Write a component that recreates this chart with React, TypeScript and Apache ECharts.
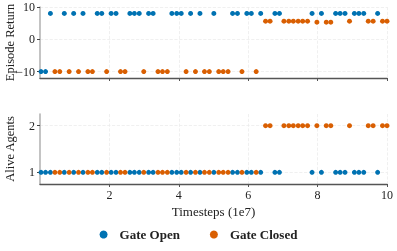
import React, { useEffect, useRef } from "react";
import * as echarts from "echarts";

const timesteps = [
  0.03, 0.16, 0.30, 0.43, 0.57, 0.70, 0.84, 0.97, 1.11, 1.24,
  1.38, 1.51, 1.65, 1.78, 1.92, 2.05, 2.19, 2.32, 2.45, 2.59,
  2.72, 2.86, 2.99, 3.13, 3.26, 3.40, 3.53, 3.67, 3.80, 3.94,
  4.07, 4.21, 4.34, 4.48, 4.61, 4.74, 4.88, 5.01, 5.15, 5.28,
  5.42, 5.55, 5.69, 5.82, 5.96, 6.09, 6.23, 6.36, 6.50, 6.63,
  6.77, 6.90, 7.03, 7.17, 7.30, 7.44, 7.57, 7.71, 7.84, 7.98,
  8.11, 8.25, 8.38, 8.52, 8.65, 8.79, 8.92, 9.06, 9.19, 9.33,
  9.46, 9.60, 9.73, 9.87, 10.0,
];

// 1 = gate open, 0 = gate closed
const gateOpen = [
  1, 1, 1, 0, 0, 1, 0, 1, 0, 1,
  0, 0, 1, 1, 0, 1, 1, 0, 0, 1,
  1, 1, 0, 1, 1, 0, 0, 0, 1, 1,
  1, 0, 1, 0, 1, 0, 0, 1, 0, 0,
  0, 1, 1, 0, 1, 1, 0, 1, 0, 0,
  1, 1, 0, 0, 0, 0, 0, 0, 1, 0,
  1, 0, 0, 1, 1, 1, 0, 1, 1, 1,
  0, 0, 1, 0, 0,
];

const episodeReturn = [
  -10, -10, 8, -10, -10, 8, -10, 8, -10, 8,
  -10, -10, 8, 8, -10, 8, 8, -10, -10, 8,
  8, 8, -10, 8, 8, -10, -10, -10, 8, 8,
  8, -10, 8, -10, 8, -10, -10, 8, -10, -10,
  -10, 8, 8, -10, 8, 8, -10, 8, 5.6, 5.6,
  8, 8, 5.6, 5.6, 5.6, 5.6, 5.6, 5.6, 8, 5.3,
  8, 5.3, 5.3, 8, 8, 8, 5.6, 8, 8, 8,
  5.6, 5.6, 8, 5.6, 5.6,
];

const aliveAgents = [
  1, 1, 1, 1, 1, 1, 1, 1, 1, 1,
  1, 1, 1, 1, 1, 1, 1, 1, 1, 1,
  1, 1, 1, 1, 1, 1, 1, 1, 1, 1,
  1, 1, 1, 1, 1, 1, 1, 1, 1, 1,
  1, 1, 1, 1, 1, 1, 1, 1, 2, 2,
  1, 1, 2, 2, 2, 2, 2, 2, 1, 2,
  1, 2, 2, 1, 1, 1, 2, 1, 1, 1,
  2, 2, 1, 2, 2,
];

const xTicks = [2, 4, 6, 8, 10];
const returnTicks = [-10, 0, 10];
const aliveTicks = [1, 2];
const seriesNames = ["Gate Open", "Gate Closed"];

const BLUE = "#0072B2";
const ORANGE = "#D95F02";
const FONT = "Liberation Serif";

export default function App() {
  const ref = useRef<HTMLDivElement>(null);
  useEffect(() => {
    if (!ref.current) return;
    const chart = echarts.init(ref.current, null, { renderer: "svg" });

    const pick = (vals: number[], open: number) =>
      timesteps
        .map((t, i) => (gateOpen[i] === open ? [t, vals[i]] : null))
        .filter((d) => d !== null);

    const gridLine = { show: true, lineStyle: { color: "#ececec", type: "dashed" as const, width: 0.8 } };

    const xAxisBase = (gridIndex: number, showLabel: boolean, name?: string) => ({
      type: "value" as const,
      gridIndex,
      min: 0,
      max: 10,
      axisLine: { show: true, onZero: false, lineStyle: { color: "#555", width: 1.3 } },
      axisTick: { show: true, length: 3, lineStyle: { color: "#555" }, customValues: xTicks },
      axisLabel: {
        show: showLabel,
        customValues: xTicks,
        color: "#222",
        fontFamily: FONT,
        fontSize: 12,
        margin: 5,
      },
      splitLine: gridLine,
      name: name,
      nameLocation: "middle" as const,
      nameGap: 21,
      nameMoveOverlap: false,
      nameTextStyle: { color: "#222", fontFamily: FONT, fontSize: 13 },
    });

    const yAxisBase = (
      gridIndex: number,
      min: number,
      max: number,
      ticks: number[],
      name: string
    ) => ({
      type: "value" as const,
      gridIndex,
      min,
      max,
      axisLine: { show: true, onZero: false, lineStyle: { color: "#b5b5b5", width: 1.6 } },
      axisTick: { show: true, length: 3, lineStyle: { color: "#444" }, customValues: ticks },
      axisLabel: {
        customValues: ticks,
        color: "#222",
        fontFamily: FONT,
        fontSize: 12,
        margin: 5,
        formatter: (v: number) => (v < 0 ? "\u2212" + Math.abs(v) : String(v)),
      },
      splitLine: gridLine,
      name,
      nameLocation: "middle" as const,
      nameGap: 24,
      nameMoveOverlap: false,
      nameTextStyle: { color: "#222", fontFamily: FONT, fontSize: 12.5 },
    });

    const scatter = (name: string, color: string, idx: number, data: any[]) => ({
      name,
      type: "scatter" as const,
      xAxisIndex: idx,
      yAxisIndex: idx,
      symbol: "circle",
      symbolSize: 5,
      itemStyle: { color, opacity: 1 },
      data,
    });

    chart.setOption({
      animation: false,
      grid: [
        { left: 40, right: 10, top: 7, height: 71, outerBoundsMode: "none", containLabel: false },
        { left: 40, right: 10, top: 114, height: 70, outerBoundsMode: "none", containLabel: false },
      ],
      legend: {
        data: seriesNames,
        bottom: 5,
        left: "center",
        icon: "circle",
        itemWidth: 8,
        itemHeight: 8,
        itemGap: 30,
        textStyle: {
          fontFamily: FONT,
          fontWeight: "bold",
          fontSize: 13,
          color: "#222",
          padding: [0, 0, 0, 7],
        },
      },
      xAxis: [xAxisBase(0, false), xAxisBase(1, true, "Timesteps (1e7)")],
      yAxis: [
        yAxisBase(0, -12, 10, returnTicks, "Episode Return"),
        yAxisBase(1, 0.75, 2.25, aliveTicks, "Alive Agents"),
      ],
      series: [
        scatter(seriesNames[0], BLUE, 0, pick(episodeReturn, 1)),
        scatter(seriesNames[1], ORANGE, 0, pick(episodeReturn, 0)),
        scatter(seriesNames[0], BLUE, 1, pick(aliveAgents, 1)),
        scatter(seriesNames[1], ORANGE, 1, pick(aliveAgents, 0)),
      ],
    });
    return () => chart.dispose();
  }, []);

  return (
    <div
      ref={ref}
      style={{ position: "fixed", left: 0, top: 0, width: 397, height: 251 }}
    />
  );
}
